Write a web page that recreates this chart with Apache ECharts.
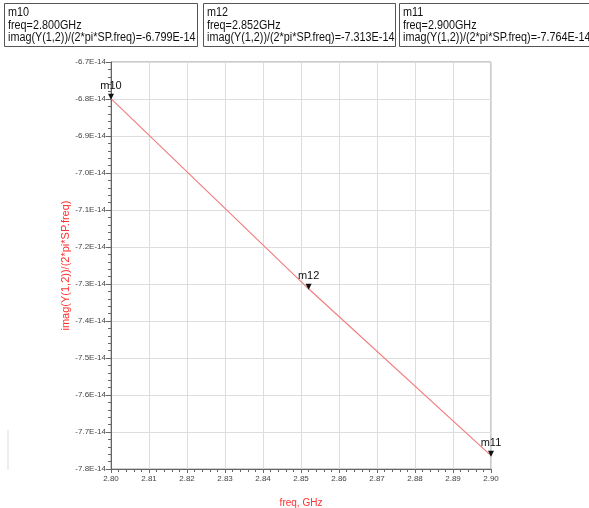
<!DOCTYPE html>
<html><head><meta charset="utf-8">
<script src="https://cdn.jsdelivr.net/npm/echarts@6/dist/echarts.min.js"></script>
<style>html,body{margin:0;padding:0;background:#fff}#c{width:589px;height:508px}</style>
</head><body><div id="c"></div>
<script>
// Data (y values in units of 1E-14)
const freqGHz = [2.800, 2.852, 2.900];
const imagVals = [-6.799, -7.313, -7.764];
const markerNames = ['m10', 'm12', 'm11'];
const markerTexts = [
  ['m10', 'freq=2.800GHz', 'imag(Y(1,2))/(2*pi*SP.freq)=-6.799E-14'],
  ['m12', 'freq=2.852GHz', 'imag(Y(1,2))/(2*pi*SP.freq)=-7.313E-14'],
  ['m11', 'freq=2.900GHz', 'imag(Y(1,2))/(2*pi*SP.freq)=-7.764E-14']
];
const boxX = [4, 203, 399];
const boxW = [193, 192, 200];

const chart = echarts.init(document.getElementById('c'));
const FONT = "'Liberation Sans', Arial, sans-serif";
const graphics = [];
markerTexts.forEach((lines, i) => {
  graphics.push({type:'rect', x: boxX[i] + 0.5, y: 3.5, shape:{width: boxW[i], height: 43},
    style:{fill:'#fff', stroke:'#555', lineWidth:1}});
  graphics.push({type:'text', x: boxX[i] + 4, y: 6.5, scaleX:0.9, scaleY:1, originX:0, originY:0,
    style:{text: lines.join('\n'), fill:'#111', font:"12px " + FONT, lineHeight:12.5}});
});
graphics.push({type:'line', shape:{x1:8, y1:430, x2:8, y2:470}, style:{stroke:'#ddd', lineWidth:1}});

chart.setOption({
  animation:false,
  backgroundColor:'#fff',
  graphic: graphics,
  grid:{left:111, right:98, top:62, bottom:39, show:true, borderColor:'#999', borderWidth:1, outerBoundsMode:'none', containLabel:false},
  xAxis:{type:'value', min:2.80, max:2.90, interval:0.01,
    name:'freq, GHz', nameLocation:'middle', nameGap:29, nameMoveOverlap:false,
    nameTextStyle:{color:'#ff3030', fontSize:10, fontFamily:FONT},
    axisLine:{onZero:false, lineStyle:{color:'#666'}},
    axisTick:{show:true, length:4, inside:false, lineStyle:{color:'#666'}},
    minorTick:{show:true, splitNumber:5, length:3, lineStyle:{color:'#666'}},
    axisLabel:{formatter:v=>v.toFixed(2), fontSize:8, color:'#444', fontFamily:FONT, margin:6},
    splitLine:{show:true, lineStyle:{color:'#ddd'}}
  },
  yAxis:{type:'value', min:-7.8, max:-6.7, interval:0.1,
    name:'imag(Y(1,2))/(2*pi*SP.freq)', nameLocation:'middle', nameGap:40, nameRotate:90, nameMoveOverlap:false,
    nameTextStyle:{color:'#ff3030', fontSize:11, fontFamily:FONT},
    axisLine:{show:true, onZero:false, lineStyle:{color:'#666'}},
    axisTick:{show:true, length:5, lineStyle:{color:'#666'}},
    minorTick:{show:true, splitNumber:5, length:3, lineStyle:{color:'#666'}},
    axisLabel:{formatter:v=>v.toFixed(1)+'E-14', fontSize:8, color:'#444', fontFamily:FONT, margin:5},
    splitLine:{show:true, lineStyle:{color:'#ddd'}}
  },
  series:[{
    type:'line', data: freqGHz.map((f,i)=>[f, imagVals[i]]),
    showSymbol:false, lineStyle:{color:'#f08080', width:1.2}, itemStyle:{color:'#f08080'},
    markPoint:{
      symbol:'triangle', symbolSize:[6,6], symbolRotate:180, symbolOffset:[0,-2],
      itemStyle:{color:'#111'},
      label:{show:true, position:'top', distance:2, color:'#111', fontSize:11,
        fontFamily:FONT, formatter:p=>p.name},
      data: freqGHz.map((f,i)=>({name:markerNames[i], coord:[f, imagVals[i]]}))
    }
  }]
});
</script></body></html>
